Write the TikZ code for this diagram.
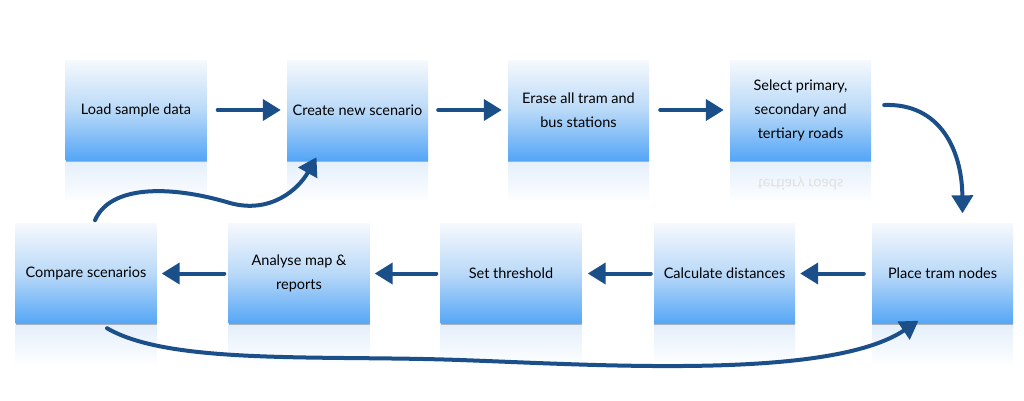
\documentclass[tikz,border=0pt]{standalone}
\usepackage{fontspec}
\setmainfont{Lato}
\usetikzlibrary{arrows.meta,shadows,calc}
\definecolor{boxtop}{HTML}{F6F9FD}
\definecolor{boxmid}{HTML}{B9D9F8}
\definecolor{boxbot}{HTML}{55A6F6}
\definecolor{reflc}{HTML}{E4EFFB}
\definecolor{arrowblue}{HTML}{1B4F8A}
\begin{document}
\begin{tikzpicture}[x=1pt,y=-1pt,
  stepbox/.style={minimum width=141pt,minimum height=100pt,inner sep=0pt,
    top color=boxtop,bottom color=boxbot,middle color=boxmid,
    align=center,font=\fontsize{14.5}{24}\selectfont,text=black,
    drop shadow={shadow xshift=0pt,shadow yshift=-1.5pt,fill=black,opacity=0.25}},
  refl/.style={minimum width=141pt,minimum height=42pt,inner sep=0pt,anchor=north,
    top color=reflc,bottom color=white,draw=none},
  flow/.style={draw=arrowblue,line width=4pt,line cap=round,
    -{Triangle[length=18pt,width=21pt]}}]
\useasboundingbox (0,0) rectangle (1024,400);
\fill[white] (0,0) rectangle (1024,400);
% reflections
\foreach \cx/\cy in {136/160,357.5/160,578.5/160,800.5/160,86/323.5,299/323.5,511/323.5,724.5/323.5,942.5/323.5}
  \node[refl] at (\cx,\cy+1) {};
\node[text=black!12,font=\fontsize{14.5}{24}\selectfont,yscale=-1] (reflsel) at (800.5,184) {tertiary roads};
% boxes
\node[stepbox] (load) at (136,110) {\raisebox{-2pt}{Load sample data}};
\node[stepbox] (create) at (357.5,110) {\raisebox{-2pt}{Create new scenario}};
\node[stepbox] (erase) at (578.5,110) {Erase all tram and\\bus stations};
\node[stepbox] (select) at (800.5,110) {Select primary,\\secondary and\\tertiary roads};
\node[stepbox] (compare) at (86,273.5) {\raisebox{-2pt}{Compare scenarios}};
\node[stepbox] (analyse) at (299,273.5) {Analyse map \&\\reports};
\node[stepbox] (thresh) at (511,273.5) {\raisebox{-2pt}{Set threshold}};
\node[stepbox] (calc) at (724.5,273.5) {\raisebox{-2pt}{Calculate distances}};
\node[stepbox] (place) at (942.5,273.5) {\raisebox{-2pt}{Place tram nodes}};
% straight arrows
\draw[flow] ([xshift=11pt]load.east) -- ([xshift=-6pt]create.west);
\draw[flow] ([xshift=10pt]create.east) -- ([xshift=-6pt]erase.west);
\draw[flow] ([xshift=11pt]erase.east) -- ([xshift=-6pt]select.west);
\draw[flow] ([xshift=-8pt]place.west) -- ([xshift=5pt]calc.east);
\draw[flow] ([xshift=-3pt]calc.west) -- ([xshift=6pt]thresh.east);
\draw[flow] ([xshift=-4pt]thresh.west) -- ([xshift=5pt]analyse.east);
\draw[flow] ([xshift=-4pt]analyse.west) -- ([xshift=5pt]compare.east);
% curved arrows
\draw[flow] ([xshift=13pt,yshift=5pt]select.east) .. controls (940,103) and (962,150) .. ([xshift=20pt,yshift=10pt]place.north);
\draw[flow] ([xshift=9pt,yshift=3pt]compare.north) .. controls (110,185) and (170,185) .. (230,203) .. controls (270,214) and (298,190) .. ([xshift=-41pt,yshift=3pt]create.south);
\draw[flow] ([xshift=21pt,yshift=-4.5pt]compare.south) .. controls (170,365) and (320,355) .. (460,360) .. controls (600,365) and (830,380) .. ([xshift=-24pt,yshift=3pt]place.south);
\end{tikzpicture}
\end{document}
